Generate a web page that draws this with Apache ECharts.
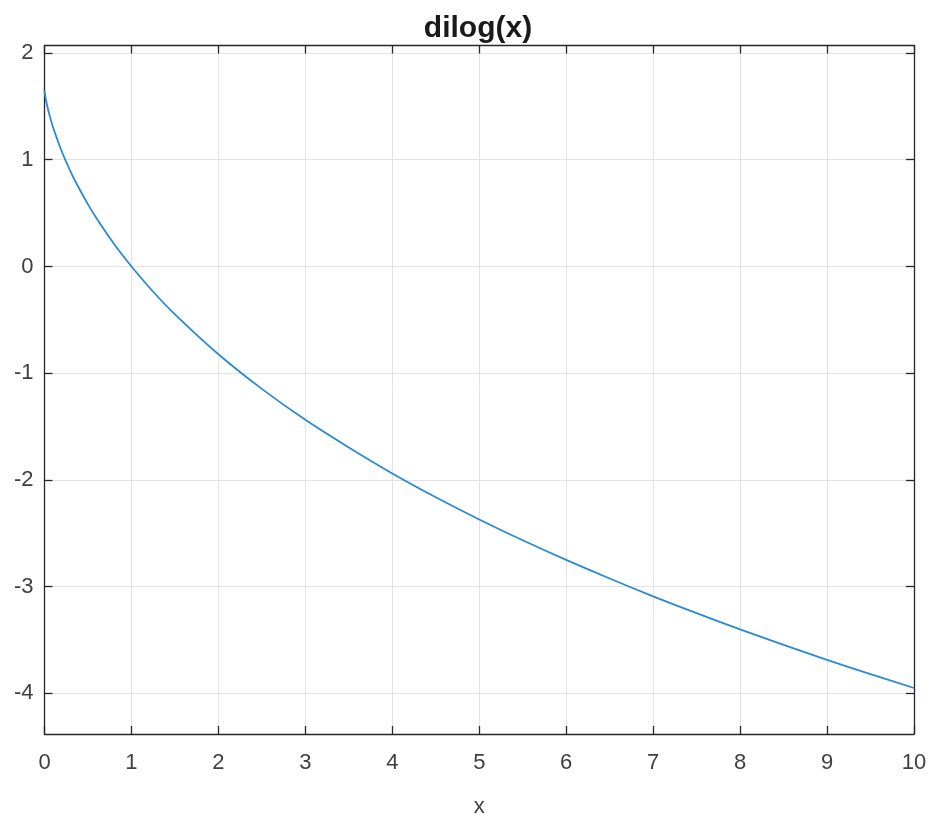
<!DOCTYPE html>
<html><head><meta charset="utf-8">
<script src="https://cdn.jsdelivr.net/npm/echarts@6/dist/echarts.min.js"></script>
<style>html,body{margin:0;padding:0;background:#fff}#c{width:930px;height:817px}</style>
</head><body><div id="c"></div>
<script>
const xValues = [0, 0.01, 0.02, 0.05, 0.1, 0.2, 0.3, 0.4, 0.5, 0.6, 0.75, 0.8, 0.9, 1, 1.25, 1.5, 2, 2.5, 3, 3.5, 4, 4.5, 5, 5.5, 6, 6.5, 7, 7.5, 8, 8.5, 9, 9.5, 10];
const yValues = [1.645, 1.589, 1.546, 1.441, 1.300, 1.075, 0.889, 0.728, 0.582, 0.449, 0.268, 0.211, 0.103, 0, -0.237, -0.448, -0.822, -1.147, -1.437, -1.696, -1.939, -2.162, -2.370, -2.565, -2.749, -2.923, -3.090, -3.248, -3.400, -3.545, -3.685, -3.820, -3.949];
const xTicks = [0,1,2,3,4,5,6,7,8,9,10];
const yTicks = [-4,-3,-2,-1,0,1,2];
const titleText = 'dilog(x)';
const xLabel = 'x';

const font = 'Liberation Sans, Arial, sans-serif';
const axisColor = '#262626';
const chart = echarts.init(document.getElementById('c'));
const baseX = {
  type: 'value', min: 0, max: 10, interval: 1,
  axisLine: {show: true, onZero: false, lineStyle: {color: axisColor, width: 1.3}},
  axisTick: {show: true, inside: true, length: 8, lineStyle: {color: axisColor, width: 1.3}},
  splitLine: {show: false}
};
const baseY = {
  type: 'value', min: -4.38, max: 2.07,
  axisLine: {show: true, onZero: false, lineStyle: {color: axisColor, width: 1.3}},
  axisTick: {show: true, inside: true, length: 8, lineStyle: {color: axisColor, width: 1.3}},
  splitLine: {show: false}
};
chart.setOption({
  animation: false,
  title: {text: titleText, left: 473, top: 9, textAlign: 'center',
    textStyle: {fontFamily: font, fontSize: 30, fontWeight: 'bold', color: '#1a1a1a'}},
  grid: {left: 44.5, right: 16, top: 45.5, bottom: 83, containLabel: false, outerBoundsMode: 'none'},
  xAxis: [
    Object.assign({}, baseX, {position: 'bottom', name: xLabel, nameLocation: 'middle', nameGap: 62,
      nameTextStyle: {fontFamily: font, fontSize: 22, color: '#404040'},
      axisLabel: {show: true, fontFamily: font, fontSize: 22, color: '#404040', margin: 18,
        customValues: xTicks, formatter: v => String(v)},
      splitLine: {show: true, lineStyle: {color: '#e3e3e3', width: 1}}}),
    Object.assign({}, baseX, {position: 'top', axisLabel: {show: false}})
  ],
  yAxis: [
    Object.assign({}, baseY, {position: 'left',
      axisTick: {show: true, inside: true, length: 8, customValues: yTicks, lineStyle: {color: axisColor, width: 1.3}},
      axisLabel: {show: true, fontFamily: font, fontSize: 22, color: '#404040', margin: 11,
        customValues: yTicks, formatter: v => String(v)},
      splitLine: {show: true, lineStyle: {color: '#e3e3e3', width: 1}}}),
    Object.assign({}, baseY, {position: 'right', axisLabel: {show: false},
      axisTick: {show: true, inside: true, length: 8, customValues: yTicks, lineStyle: {color: axisColor, width: 1.3}}})
  ],
  series: [{
    type: 'line', xAxisIndex: 0, yAxisIndex: 0,
    data: xValues.map((x, i) => [x, yValues[i]]),
    showSymbol: false, smooth: 0.3,
    lineStyle: {color: '#2b8ad4', width: 1.8}
  }]
});
</script></body></html>
